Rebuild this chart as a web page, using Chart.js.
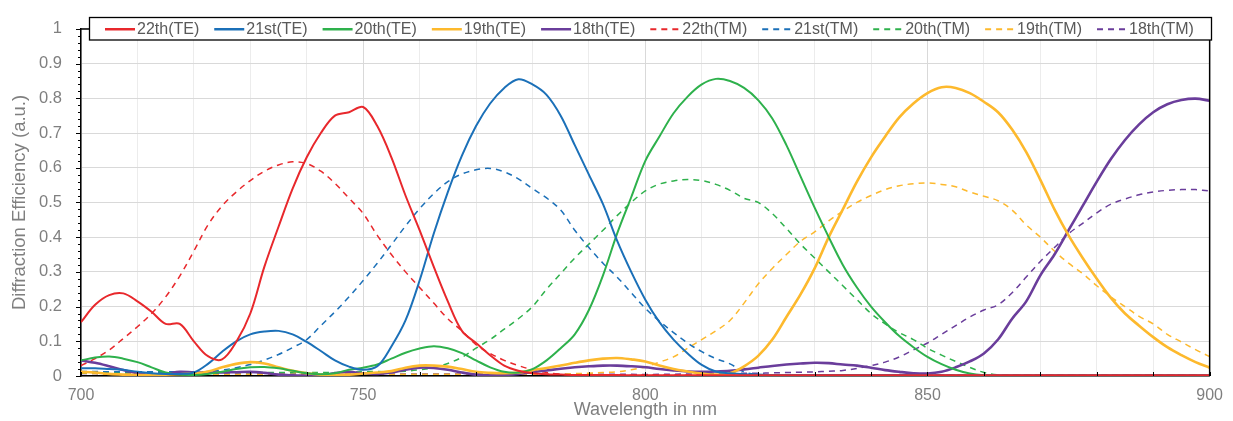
<!DOCTYPE html>
<html>
<head>
<meta charset="utf-8">
<title>Diffraction efficiency vs wavelength</title>
<script src="https://cdn.jsdelivr.net/npm/chart.js@4.4.1/dist/chart.umd.min.js"></script>
<style>
  html, body { margin: 0; padding: 0; background: #fff; }
  #wrap { width: 1233px; height: 421px; position: relative; }
</style>
</head>
<body>
<div id="wrap"><canvas id="chart"></canvas></div>
<script>
// wavelength grid, nm
const wavelength = [
  700, 702.5, 705, 707.5, 710, 712.5, 715, 717.5, 720, 722.5,
  725, 727.5, 730, 732.5, 735, 737.5, 740, 742.5, 745, 747.5,
  750, 752.5, 755, 757.5, 760, 762.5, 765, 767.5, 770, 772.5,
  775, 777.5, 780, 782.5, 785, 787.5, 790, 792.5, 795, 797.5,
  800, 802.5, 805, 807.5, 810, 812.5, 815, 817.5, 820, 822.5,
  825, 827.5, 830, 832.5, 835, 837.5, 840, 842.5, 845, 847.5,
  850, 852.5, 855, 857.5, 860, 862.5, 865, 867.5, 870, 872.5,
  875, 877.5, 880, 882.5, 885, 887.5, 890, 892.5, 895, 897.5,
  900
];

// TE polarisation, diffraction orders 22..18
const te22 = [
  .155, .205, .233, .238, .215, .185, .150, .150, .100, .057,
  .048, .098, .180, .315, .430, .540, .630, .700, .750, .760,
  .775, .720, .630, .520, .420, .315, .215, .130, .095, .060,
  .030, .015, .008, .005, .004, .003, .003, .003, .003, .002,
  .002, .002, .002, .002, .002, .002, .002, .002, .002, .002,
  .002, .002, .002, .002, .002, .002, .002, .002, .002, .002,
  .002, .002, .002, .002, .002, .002, .002, .002, .002, .002,
  .002, .002, .002, .002, .002, .002, .002, .002, .002, .002,
  .002
];
const te21 = [
  .022, .022, .020, .018, .012, .008, .006, .006, .010, .035,
  .070, .100, .120, .128, .130, .120, .098, .072, .045, .027,
  .018, .028, .085, .160, .275, .410, .530, .635, .720, .785,
  .830, .855, .840, .810, .750, .665, .580, .495, .390, .300,
  .220, .155, .105, .065, .032, .013, .008, .005, .004, .003,
  .003, .003, .003, .003, .003, .003, .003, .003, .003, .003,
  .002, .002, .002, .002, .002, .002, .002, .002, .002, .002,
  .002, .002, .002, .002, .002, .002, .002, .002, .002, .002,
  .002
];
const te20 = [
  .045, .053, .056, .050, .040, .025, .010, .004, .003, .006,
  .012, .020, .025, .026, .022, .015, .008, .005, .008, .018,
  .024, .033, .050, .067, .079, .086, .080, .066, .045, .025,
  .012, .010, .020, .045, .080, .120, .190, .290, .410, .515,
  .620, .690, .757, .805, .840, .856, .850, .830, .795, .742,
  .665, .575, .485, .400, .320, .255, .200, .155, .115, .083,
  .055, .034, .018, .007, .002, .001, .001, .001, .001, .001,
  .001, .001, .001, .001, .001, .001, .001, .001, .001, .001,
  .001
];
const te19 = [
  .012, .010, .006, .004, .003, .003, .004, .005, .007, .013,
  .025, .035, .040, .036, .025, .015, .008, .004, .003, .004,
  .007, .010, .014, .024, .030, .030, .027, .020, .012, .009,
  .008, .010, .017, .023, .030, .038, .045, .050, .052, .048,
  .042, .030, .020, .013, .007, .004, .008, .028, .058, .105,
  .170, .235, .310, .400, .480, .560, .630, .690, .745, .785,
  .815, .832, .830, .815, .790, .760, .710, .645, .565, .480,
  .405, .340, .280, .225, .180, .145, .112, .083, .060, .040,
  .024
];
const te18 = [
  .045, .038, .028, .017, .008, .003, .006, .012, .010, .010,
  .010, .011, .012, .009, .004, .002, .001, .002, .008, .012,
  .007, .006, .010, .018, .024, .023, .018, .010, .004, .002,
  .003, .006, .011, .016, .021, .025, .028, .030, .030, .028,
  .025, .020, .016, .013, .012, .013, .015, .019, .024, .029,
  .033, .036, .038, .037, .033, .030, .024, .017, .012, .008,
  .007, .012, .025, .042, .065, .105, .165, .215, .290, .350,
  .420, .490, .560, .625, .680, .725, .760, .783, .795, .799,
  .793
];

// TM polarisation, diffraction orders 22..18
const tm22 = [
  .030, .050, .075, .108, .142, .180, .228, .288, .360, .435,
  .490, .530, .563, .590, .608, .617, .612, .590, .555, .512,
  .468, .405, .350, .300, .255, .210, .165, .130, .090, .065,
  .045, .030, .018, .010, .005, .003, .002, .002, .002, .002,
  .002, .002, .002, .002, .002, .002, .002, .002, .002, .002,
  .002, .002, .002, .002, .002, .002, .002, .002, .002, .002,
  .002, .002, .002, .002, .002, .002, .002, .002, .002, .002,
  .002, .002, .002, .002, .002, .002, .002, .002, .002, .002,
  .002
];
const tm21 = [
  .013, .013, .012, .012, .012, .012, .012, .012, .012, .013,
  .017, .024, .033, .046, .062, .082, .105, .145, .185, .228,
  .275, .325, .378, .432, .482, .525, .560, .582, .594, .598,
  .588, .568, .540, .513, .478, .420, .370, .325, .285, .240,
  .195, .158, .125, .095, .070, .050, .035, .012, .003, .002,
  .002, .002, .002, .002, .002, .002, .002, .002, .002, .002,
  .002, .002, .002, .002, .002, .002, .002, .002, .002, .002,
  .002, .002, .002, .002, .002, .002, .002, .002, .002, .002,
  .002
];
const tm20 = [
  .010, .010, .010, .010, .010, .010, .010, .010, .010, .010,
  .010, .010, .010, .010, .010, .010, .010, .010, .010, .011,
  .012, .013, .012, .014, .018, .024, .036, .054, .080, .105,
  .135, .165, .200, .250, .295, .340, .380, .420, .462, .500,
  .533, .553, .562, .566, .563, .552, .535, .512, .500, .468,
  .425, .380, .340, .300, .260, .220, .180, .150, .125, .105,
  .080, .060, .042, .025, .010, .003, .002, .002, .002, .002,
  .002, .002, .002, .002, .002, .002, .002, .002, .002, .002,
  .002
];
const tm19 = [
  .008, .007, .005, .005, .005, .005, .005, .005, .005, .005,
  .005, .005, .005, .005, .005, .005, .005, .005, .005, .005,
  .005, .005, .005, .005, .005, .005, .005, .005, .005, .005,
  .005, .005, .005, .005, .005, .007, .008, .010, .012, .018,
  .026, .040, .055, .080, .105, .130, .160, .210, .265, .310,
  .350, .388, .415, .447, .475, .500, .520, .537, .548, .554,
  .556, .552, .545, .530, .518, .505, .478, .435, .400, .360,
  .325, .295, .260, .228, .200, .172, .150, .120, .098, .076,
  .056
];
const tm18 = [
  .007, .007, .006, .006, .006, .006, .006, .006, .006, .006,
  .006, .006, .006, .006, .006, .006, .006, .006, .006, .006,
  .006, .006, .006, .006, .006, .006, .006, .006, .006, .006,
  .005, .005, .005, .005, .005, .005, .005, .005, .005, .005,
  .004, .005, .005, .006, .006, .007, .007, .008, .008, .009,
  .010, .011, .012, .014, .016, .022, .030, .040, .055, .075,
  .095, .120, .145, .170, .190, .205, .240, .285, .330, .370,
  .410, .440, .470, .495, .510, .522, .530, .535, .537, .537,
  .533
];

const seriesLabels = ['22th(TE)', '21st(TE)', '20th(TE)', '19th(TE)', '18th(TE)',
                      '22th(TM)', '21st(TM)', '20th(TM)', '19th(TM)', '18th(TM)'];
const seriesValues = [te22, te21, te20, te19, te18, tm22, tm21, tm20, tm19, tm18];

const orderColors = ['#e8282c', '#1b70b8', '#2eb14c', '#fdb92d', '#6a3d9b'];
const solidWidths = [2, 2, 2, 2.6, 2.6];

const datasets = seriesValues.map((vals, i) => {
  const tm = i >= 5;
  const k = i % 5;
  return {
    label: seriesLabels[i],
    data: vals.map((v, j) => ({ x: wavelength[j], y: v })),
    borderColor: orderColors[k],
    backgroundColor: orderColors[k],
    borderWidth: tm ? 1.5 : solidWidths[k],
    borderDash: tm ? [6, 5] : [],
    pointRadius: 0,
    tension: 0.35,
    fill: false
  };
});

const FONT = "'Liberation Sans', Arial, sans-serif";

// frame, tick marks and a boxed legend laid over the top of the plot
const frameAndLegend = {
  id: 'frameAndLegend',
  afterDraw(chart) {
    const ctx = chart.ctx;
    const area = chart.chartArea;
    const xs = chart.scales.x;
    const ys = chart.scales.y;
    ctx.save();

    // top and right edges of the plot box
    ctx.strokeStyle = '#000';
    ctx.lineWidth = 1.5;
    ctx.beginPath();
    ctx.moveTo(area.left, area.top);
    ctx.lineTo(area.right, area.top);
    ctx.lineTo(area.right, area.bottom);
    ctx.stroke();

    // x ticks every 10 nm, pointing into the plot
    ctx.lineWidth = 1;
    ctx.beginPath();
    for (let v = xs.min; v <= xs.max; v += 10) {
      const px = Math.round(xs.getPixelForValue(v)) + 0.5;
      ctx.moveTo(px, area.bottom);
      ctx.lineTo(px, area.bottom - 4);
    }
    // y ticks: major every 0.1, minor every 0.02, pointing out
    for (let i = 0; i <= 50; i++) {
      const py = Math.round(ys.getPixelForValue(i / 50)) + 0.5;
      const len = i % 5 === 0 ? 5 : 3;
      ctx.moveTo(area.left, py);
      ctx.lineTo(area.left - len, py);
    }
    ctx.stroke();

    // legend box
    const boxL = 89.5, boxT = 17.5, boxR = 1211.5, boxB = 40;
    ctx.fillStyle = '#fff';
    ctx.fillRect(boxL, boxT, boxR - boxL, boxB - boxT);
    ctx.strokeStyle = '#000';
    ctx.lineWidth = 1.3;
    ctx.strokeRect(boxL, boxT, boxR - boxL, boxB - boxT);

    ctx.font = '16px ' + FONT;
    ctx.textBaseline = 'middle';
    ctx.fillStyle = '#595959';
    const midY = (boxT + boxB) / 2 + 0.5;
    let cx = 105;
    chart.data.datasets.forEach(ds => {
      ctx.strokeStyle = ds.borderColor;
      ctx.lineWidth = ds.borderDash.length ? 2 : 2.5;
      ctx.setLineDash(ds.borderDash.length ? [6, 5] : []);
      ctx.beginPath();
      ctx.moveTo(cx, midY);
      ctx.lineTo(cx + 30, midY);
      ctx.stroke();
      ctx.setLineDash([]);
      ctx.fillText(ds.label, cx + 32, midY);
      cx += 32 + ctx.measureText(ds.label).width + 15;
    });
    ctx.restore();
  }
};

new Chart(document.getElementById('chart'), {
  type: 'line',
  data: { datasets },
  options: {
    responsive: true,
    maintainAspectRatio: false,
    animation: false,
    layout: { padding: { top: 15, right: 19, left: 0, bottom: 0 } },
    plugins: {
      legend: { display: false },
      tooltip: { enabled: false }
    },
    scales: {
      x: {
        type: 'linear',
        min: 700,
        max: 900,
        afterFit: s => { s.height = 45; },
        ticks: {
          stepSize: 10,
          autoSkip: false,
          maxRotation: 0,
          padding: 10,
          color: '#7f7f7f',
          font: { family: FONT, size: 16 },
          callback: v => (v % 50 === 0 ? String(v) : '')
        },
        grid: {
          drawTicks: false,
          color: c => (c.tick && c.tick.value % 50 === 0 ? '#d9d9d9' : '#ececec'),
          lineWidth: 1
        },
        border: { display: true, color: '#000', width: 1.5 },
        title: {
          display: true,
          text: 'Wavelength in nm',
          color: '#7f7f7f',
          font: { family: FONT, size: 18 },
          padding: { top: 0, bottom: 0 }
        }
      },
      y: {
        min: 0,
        max: 1,
        afterFit: s => { s.width = 81; },
        ticks: {
          stepSize: 0.1,
          padding: 19,
          color: '#7f7f7f',
          font: { family: FONT, size: 16.5 },
          callback: v => String(Number(v.toFixed(1)))
        },
        grid: {
          drawTicks: false,
          color: '#d9d9d9',
          lineWidth: 1
        },
        border: { display: true, color: '#000', width: 1.5 },
        title: {
          display: true,
          text: 'Diffraction Efficiency (a.u.)',
          color: '#7f7f7f',
          font: { family: FONT, size: 18.5 },
          padding: { top: 9, bottom: 0 }
        }
      }
    }
  },
  plugins: [frameAndLegend]
});
</script>
</body>
</html>
